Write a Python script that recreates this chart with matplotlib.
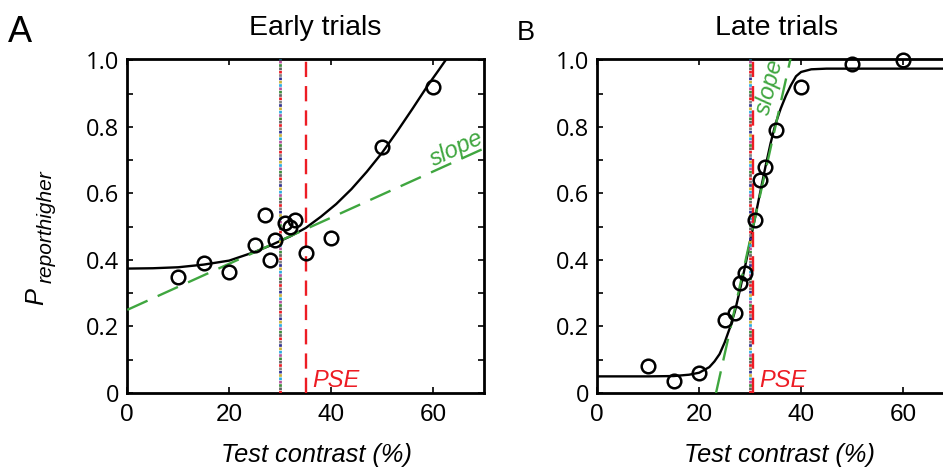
import matplotlib
matplotlib.use("Agg")
import matplotlib.pyplot as plt

plt.rcParams["font.family"] = ["Liberation Sans", "DejaVu Sans"]
plt.rcParams["lines.scale_dashes"] = False

# measured proportions
contrast = [10, 15, 20, 25, 27, 28, 29, 31, 32, 33, 35, 40, 50, 60]
p_early = [0.35, 0.39, 0.365, 0.445, 0.535, 0.40, 0.46, 0.51, 0.50, 0.52, 0.42, 0.465, 0.74, 0.92]
p_late = [0.08, 0.035, 0.06, 0.22, 0.24, 0.33, 0.36, 0.52, 0.64, 0.68, 0.79, 0.92, 0.99, 1.0]

# fitted psychometric curves
fit_x_early = [0, 5, 10, 15, 20, 25, 28, 30, 32, 35, 38, 41, 44, 47, 50, 53, 56, 59, 61, 63]
fit_y_early = [0.374, 0.375, 0.378, 0.386, 0.398, 0.424, 0.443, 0.457, 0.471, 0.496, 0.53,
               0.568, 0.613, 0.665, 0.722, 0.787, 0.855, 0.925, 0.968, 1.012]
fit_x_late = [0, 10, 15, 18, 20, 22, 23, 24, 25, 26, 27, 28, 29, 30, 31, 32, 33, 34, 35,
              36, 37, 38, 39, 40, 42, 45, 70]
fit_y_late = [0.05, 0.05, 0.051, 0.055, 0.061, 0.078, 0.095, 0.117, 0.152, 0.195, 0.245,
              0.31, 0.38, 0.455, 0.53, 0.605, 0.68, 0.75, 0.81, 0.855, 0.893, 0.925, 0.952,
              0.965, 0.973, 0.975, 0.975]

# slope lines (endpoints) and reference values
slope_x_early = [0, 70]
slope_y_early = [0.25, 0.735]
slope_x_late = [23.3, 38.0]
slope_y_late = [0.0, 1.01]
true_value = 30
pse_early = 35
pse_late = 30.5

RED = "#ed1c24"
GREEN = "#3fa63f"
DOT_COLORS = ["#ed1c24", "#7f7f7f", "#2e3192", "#c9b037", "#29abe2", "#b5529a", "#3c8d3c", "#606060"]

fig = plt.figure(figsize=(9.43, 4.70), dpi=100)
ax_a = fig.add_axes([0.1350, 0.1638, 0.3782, 0.7114])
ax_b = fig.add_axes([0.6334, 0.1638, 0.3782, 0.7114])


def multicolor_vline(ax, x):
    step = 2.4
    n = len(DOT_COLORS)
    for i, c in enumerate(DOT_COLORS):
        ax.plot([x, x], [0, 1.005], color=c, lw=2.0, solid_capstyle="butt",
                dash_capstyle="butt", linestyle=(i * step, (step * 0.8, step * n - step * 0.8)),
                zorder=4)


def setup(ax):
    ax.set_xlim(0, 70)
    ax.set_ylim(0, 1.005)
    ax.set_xticks([0, 20, 40, 60])
    ax.set_xticklabels(["0", "20", "40", "60"], fontsize=17.5)
    ax.set_yticks([0, 0.2, 0.4, 0.6, 0.8, 1.0])
    ax.set_yticklabels(["0", "0.2", "0.4", "0.6", "0.8", "1.0"], fontsize=17,
                       fontfamily="Open Sans")
    ax.set_yticks([0.1, 0.3, 0.5, 0.7, 0.9], minor=True)
    ax.tick_params(which="both", direction="in", top=True, right=True, length=4, width=1.2)
    ax.tick_params(axis="x", pad=8)
    ax.tick_params(axis="y", pad=6)
    for s in ax.spines.values():
        s.set_linewidth(2.0)


for ax, p, fx, fy, sx, sy, pse in [
    (ax_a, p_early, fit_x_early, fit_y_early, slope_x_early, slope_y_early, pse_early),
    (ax_b, p_late, fit_x_late, fit_y_late, slope_x_late, slope_y_late, pse_late),
]:
    setup(ax)
    ax.plot(fx, fy, color="black", lw=1.7, zorder=3)
    ax.plot(sx, sy, color=GREEN, lw=1.7, linestyle=(0, (16, 8)), zorder=3)
    multicolor_vline(ax, true_value)
    ax.plot([pse, pse], [0, 1.005], color=RED, lw=1.7, linestyle=(0, (11, 6.5)), zorder=4)
    ax.plot(contrast, p, "o", mfc="none", mec="black", mew=1.8, ms=9.8, zorder=5, clip_on=False)
    ax.text(pse + 1.3, 0.019, "PSE", color=RED, fontsize=17, style="italic")

ax_a.text(64.7, 0.735, "slope", color=GREEN, fontsize=17, style="italic",
          rotation=25, ha="center", va="center")
ax_b.text(33.9, 0.92, "slope", color=GREEN, fontsize=17, style="italic",
          rotation=76, ha="center", va="center")

# titles, panel letters, axis labels
fig.text(315.5 / 943, 1 - 35 / 470, "Early trials", fontsize=20.5, ha="center", va="baseline")
fig.text(776.7 / 943, 1 - 35 / 470, "Late trials", fontsize=20.5, ha="center", va="baseline")
fig.text(8 / 943, 1 - 41.7 / 470, "A", fontsize=26, ha="left", va="baseline")
fig.text(517 / 943, 1 - 40.5 / 470, "B", fontsize=19.5, ha="left", va="baseline")
fig.text(316.5 / 943, 1 - 462 / 470, "Test contrast (%)", fontsize=18.3, style="italic",
         ha="center", va="baseline")
fig.text(780 / 943, 1 - 462 / 470, "Test contrast (%)", fontsize=18.3, style="italic",
         ha="center", va="baseline")
fig.text(43.3 / 943, 1 - 305 / 470, "P", fontsize=18.4, style="italic", rotation=90,
         rotation_mode="anchor", ha="left", va="baseline")
fig.text(52 / 943, 1 - 283 / 470, "reporthigher", fontsize=15, style="italic", rotation=90,
         rotation_mode="anchor", ha="left", va="baseline")

fig.savefig("out.png", dpi=100)
